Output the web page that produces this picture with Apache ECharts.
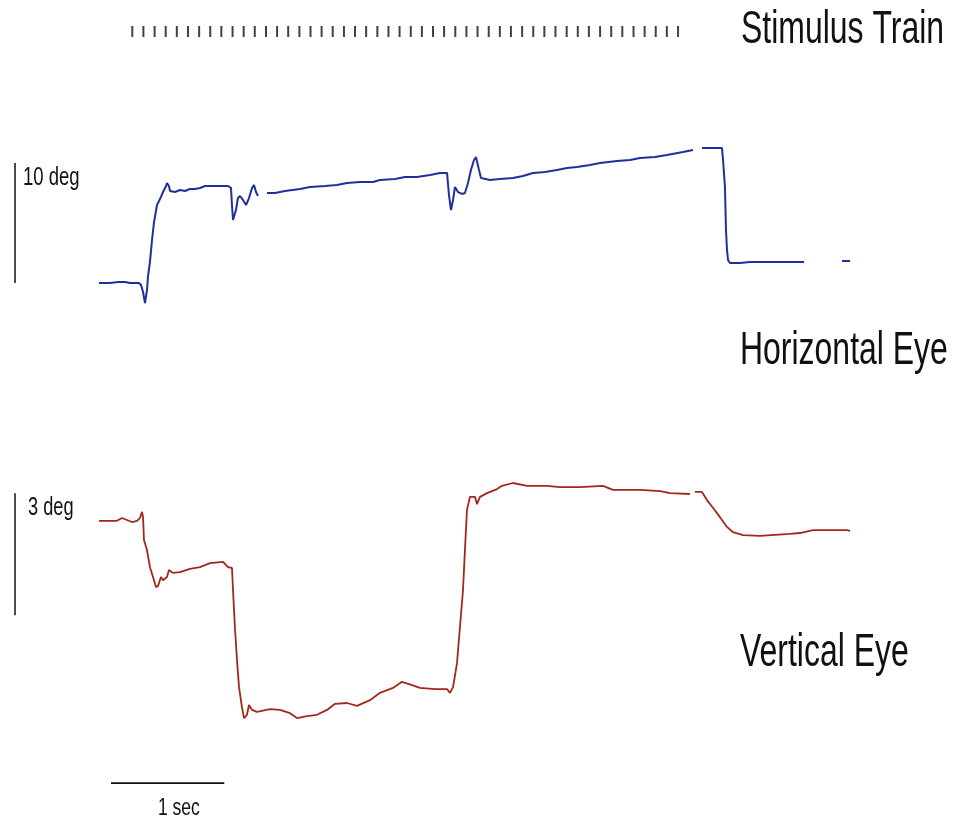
<!DOCTYPE html>
<html>
<head>
<meta charset="utf-8">
<script src="https://cdn.jsdelivr.net/npm/echarts/dist/echarts.min.js"></script>
<style>
html,body{margin:0;padding:0;background:#fff;}
#chart{width:953px;height:822px;}
</style>
</head>
<body>
<div id="chart"></div>
<script>
// ---- data (time in ms, eye position in deg) ----
const stimTimes = [285,383,482,580,678,777,875,973,1071,1170,1268,1366,1465,1563,1661,1760,1858,1956,2054,2153,2251,2349,2448,2546,2644,2743,2841,2939,3037,3136,3234,3332,3431,3529,3627,3726,3824,3922,4020,4119,4217,4315,4414,4512,4610,4709,4807,4905,5003,5102];

const horizTime = [
  -9,88,159,221,265,318,344,362,380,397,415,424,441,459,477,503,538,556,583,591,609,618,662,706,750,794,838,883,927,1015,1077,1130,1156,1165,1174,1183,1200,1218,1236,1262,1289,1315,1342,1359,1377,1394,
  1430,
  1474,1545,1633,1765,1853,1986,2092,2180,2295,2409,2471,2604,2692,2798,2913,3001,3063,3080,3098,3116,3133,3160,3195,3221,3248,3274,3301,3319,3345,3363,3442,3530,3645,3733,3822,3928,4033,4122,4210,4325,4413,4563,4678,4766,4898,5004,5145,5234,
  5270,
  5313,5490,5499,5516,5525,5534,5543,5560,5649,5737,6002,6214,
  6380,
  6549,6620
];
const horizDeg = [
  0,0,0.08,0.08,0,0,0,-0.17,-0.75,-1.67,-0.58,0.58,1.75,3.58,5.08,6.5,7.17,7.58,8.08,8.33,8.08,7.67,7.58,7.75,7.67,7.83,7.83,7.92,8.08,8.08,8.08,8.08,7.92,6.5,5.25,5.25,6.08,7.08,7.25,6.92,6.5,7.08,7.92,8.17,7.58,7.25,
  null,
  7.5,7.5,7.67,7.83,8.0,8.08,8.17,8.33,8.42,8.42,8.58,8.67,8.83,8.83,9.0,9.17,9.17,7.33,6.08,6.92,8.0,7.58,7.42,7.5,8.33,9.42,10.25,10.5,9.42,8.75,8.58,8.67,8.75,8.92,9.17,9.25,9.42,9.58,9.67,9.83,10.0,10.17,10.25,10.42,10.5,10.67,10.92,11.08,
  null,
  11.25,11.25,10.25,8.0,4.42,2.75,1.92,1.67,1.67,1.75,1.75,1.75,
  null,
  1.83,1.83
];

const vertTime = [
  -9,88,150,194,238,282,327,353,371,380,388,415,441,468,494,512,538,556,591,609,644,706,794,883,971,1086,1130,1165,1174,1192,1209,1227,1253,1271,1297,1315,1342,1386,1500,1589,1677,1739,1827,1915,2004,2074,2180,2268,2383,2471,2586,2665,2754,2824,2957,3063,3089,3116,3151,3177,3204,3221,3239,3266,3310,3327,3354,3416,3504,3548,3645,3769,3945,4060,4237,4439,4528,4766,4943,5031,5207,
  5230,
  5251,5313,5357,5410,5472,5534,5587,5675,5825,6090,6178,6293,6443,6593,6620
];
const vertDeg = [
  -0.02,-0.02,-0.02,0.05,0,-0.05,-0.02,0.05,0.2,0.07,-0.49,-0.74,-1.16,-1.4,-1.65,-1.62,-1.4,-1.48,-1.4,-1.23,-1.3,-1.28,-1.2,-1.16,-1.06,-1.03,-1.16,-1.18,-1.72,-2.7,-3.44,-4.11,-4.6,-4.87,-4.79,-4.55,-4.67,-4.72,-4.65,-4.67,-4.75,-4.87,-4.82,-4.79,-4.67,-4.52,-4.5,-4.57,-4.43,-4.25,-4.13,-3.98,-4.06,-4.13,-4.16,-4.16,-4.25,-4.11,-3.52,-2.63,-1.72,-0.74,0.25,0.57,0.57,0.39,0.57,0.66,0.76,0.84,0.91,0.84,0.84,0.81,0.81,0.84,0.74,0.74,0.71,0.66,0.64,
  null,
  0.69,0.69,0.49,0.3,0.07,-0.17,-0.3,-0.37,-0.39,-0.34,-0.32,-0.25,-0.25,-0.25,-0.27
];

// scale bars: 10 deg (horizontal), 3 deg (vertical), 1 sec
const horizBarDeg = [0, 10];
const vertBarDeg = [-2.34, 0.66];
const timeBarMs = [97, 1097];
const barTime = -750;
const timeBarLevel = -6.47;

function pairs(t, v) { return t.map((x, i) => [x, v[i] === null ? '-' : v[i]]); }

const chart = echarts.init(document.getElementById('chart'), null, {renderer: 'canvas'});
const FONT = '"Liberation Sans", Arial, sans-serif';

chart.setOption({
  animation: false,
  backgroundColor: '#ffffff',
  grid: {left: 0, right: 0, top: 0, bottom: 0},
  xAxis: {type: 'value', min: -882.6, max: 7528.7, show: false},
  yAxis: [
    {type: 'value', min: -44.917, max: 23.583, show: false},
    {type: 'value', min: -7.426, max: 12.787, show: false},
    {type: 'value', min: -789.5, max: 32.5, show: false}
  ],
  series: [
    {
      name: 'Stimulus Train', type: 'scatter', yAxisIndex: 2,
      symbol: 'rect', symbolSize: [2, 11],
      itemStyle: {color: '#111111'},
      data: stimTimes.map(t => [t, 1])
    },
    {
      name: 'Horizontal Eye', type: 'line', yAxisIndex: 0,
      showSymbol: false, connectNulls: false,
      lineStyle: {color: '#1f2f9e', width: 2},
      data: pairs(horizTime, horizDeg)
    },
    {
      name: 'Vertical Eye', type: 'line', yAxisIndex: 1,
      showSymbol: false, connectNulls: false,
      lineStyle: {color: '#a3281c', width: 1.8},
      data: pairs(vertTime, vertDeg)
    },
    {
      name: '10 deg bar', type: 'line', yAxisIndex: 0, showSymbol: false,
      lineStyle: {color: '#111', width: 1.5},
      data: horizBarDeg.map(d => [barTime, d])
    },
    {
      name: '3 deg bar', type: 'line', yAxisIndex: 1, showSymbol: false,
      lineStyle: {color: '#111', width: 1.5},
      data: vertBarDeg.map(d => [barTime, d])
    },
    {
      name: '1 sec bar', type: 'line', yAxisIndex: 1, showSymbol: false,
      lineStyle: {color: '#111', width: 1.6},
      data: timeBarMs.map(t => [t, timeBarLevel])
    }
  ],
  graphic: [
    {type: 'text', x: 741, y: 30, scaleX: 0.68, style: {text: 'Stimulus Train', font: '47px ' + FONT, fill: '#111', verticalAlign: 'middle'}},
    {type: 'text', x: 740, y: 351, scaleX: 0.68, style: {text: 'Horizontal Eye', font: '47px ' + FONT, fill: '#111', verticalAlign: 'middle'}},
    {type: 'text', x: 740, y: 653, scaleX: 0.68, style: {text: 'Vertical Eye', font: '47px ' + FONT, fill: '#111', verticalAlign: 'middle'}},
    {type: 'text', x: 23, y: 178, scaleX: 0.74, style: {text: '10 deg', font: '25px ' + FONT, fill: '#111', verticalAlign: 'middle'}},
    {type: 'text', x: 28, y: 508, scaleX: 0.7, style: {text: '3 deg', font: '26px ' + FONT, fill: '#111', verticalAlign: 'middle'}},
    {type: 'text', x: 158, y: 808, scaleX: 0.73, style: {text: '1 sec', font: '24px ' + FONT, fill: '#111', verticalAlign: 'middle'}}
  ]
});
</script>
</body>
</html>
